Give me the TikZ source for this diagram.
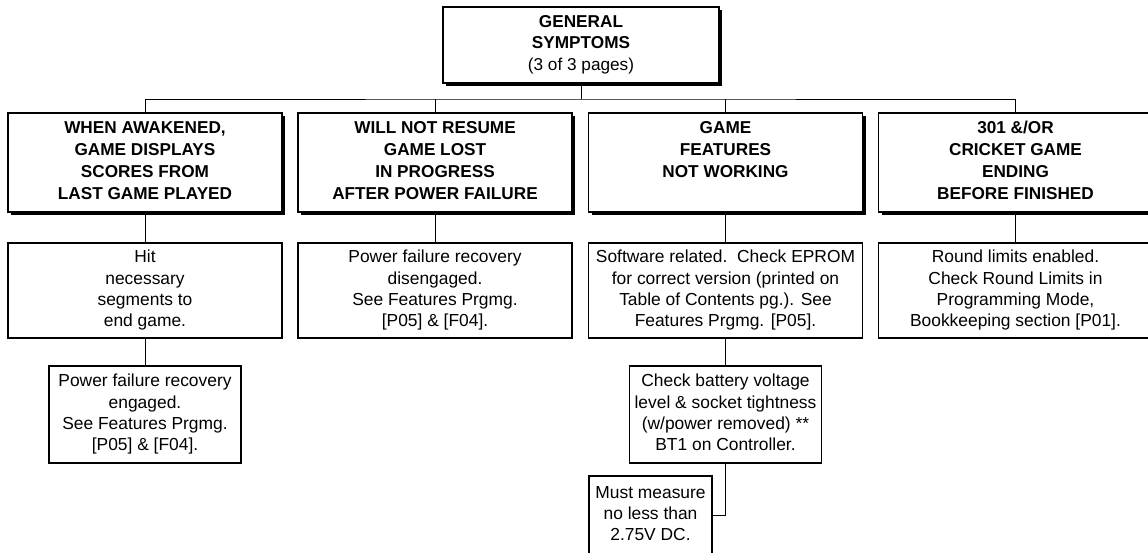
\documentclass[tikz,border=0pt]{standalone}
\usepackage{fontspec}
\setmainfont{Liberation Sans}
\usetikzlibrary{shadows}
\newcommand{\mystrut}{\rule[-4.2pt]{0pt}{20.4pt}}
\begin{document}
\begin{tikzpicture}[x=1pt,y=-1pt,
  plainbox/.style={draw=black, line width=1.1pt, fill=white, align=center, inner sep=0pt,
    font=\fontsize{17.4}{21.2}\selectfont,
    execute at begin node=\mystrut, execute at end node=\mystrut},
  headbox/.style={plainbox, font=\bfseries\fontsize{17.2}{22}\selectfont,
    drop shadow={shadow xshift=3pt, shadow yshift=-3pt, fill=black, opacity=1}},
  lvlone/.style={headbox, minimum width=274pt, minimum height=99pt},
  lvltwo/.style={plainbox, minimum width=274pt, minimum height=95pt},
  lvlthree/.style={plainbox, minimum width=192pt, minimum height=97pt},
  conn/.style={line width=0.8pt}]
\useasboundingbox (0,0) rectangle (1148,552);
\clip (0,0) rectangle (1148,552);

% top
\node[headbox, minimum width=276pt, minimum height=76pt, font=\bfseries\fontsize{17.2}{21.5}\selectfont] (top) at (581,45)
  {GENERAL\\SYMPTOMS\\{\mdseries (3 of 3 pages)}};

% level one
\node[lvlone] (a1) at (145,162.5) {WHEN AWAKENED,\\GAME DISPLAYS\\SCORES FROM\\LAST GAME PLAYED};
\node[lvlone] (a2) at (435,162.5) {WILL NOT RESUME\\GAME LOST\\IN PROGRESS\\AFTER POWER FAILURE};
\node[lvlone] (a3) at (725.5,162.5) {GAME\\FEATURES\\NOT WORKING\\};
\node[lvlone] (a4) at (1015.5,162.5) {301 \&/OR\\CRICKET GAME\\ENDING\\BEFORE FINISHED};

% level two
\node[lvltwo] (b1) at (145,290.5) {Hit\\necessary\\segments to\\end game.};
\node[lvltwo] (b2) at (435,290.5) {Power failure recovery\\disengaged.\\See Features Prgmg.\\{[P05]} \& [F04].};
\node[lvltwo] (b3) at (725.5,290.5) {Software related.\ \ Check EPROM\\for correct version (printed on\\Table of Contents pg.). See\\Features Prgmg. [P05].};
\node[lvltwo] (b4) at (1015.5,290.5) {Round limits enabled.\\Check Round Limits in\\Programming Mode,\\Bookkeeping section [P01].};

% level three
\node[lvlthree] (c1) at (145,414.5) {Power failure recovery\\engaged.\\See Features Prgmg.\\{[P05]} \& [F04].};
\node[lvlthree] (c3) at (725.5,414.5) {Check battery voltage\\level \& socket tightness\\(w/power removed) **\\BT1 on Controller.};

% level four
\node[plainbox, minimum width=123pt, minimum height=79pt] (d) at (650.5,515.5) {Must measure\\no less than\\2.75V DC.};

% connectors
\coordinate (bus) at (581,99);
\draw[conn] (top.south) -- (bus);
\draw[conn] (a1.north) |- (bus) -| (a4.north);
\draw[conn] (a2.north) -- (a2.north |- bus);
\draw[conn] (a3.north) -- (a3.north |- bus);
\draw[conn] (a1.south) -- (b1.north);
\draw[conn] (a2.south) -- (b2.north);
\draw[conn] (a3.south) -- (b3.north);
\draw[conn] (a4.south) -- (b4.north);
\draw[conn] (b1.south) -- (c1.north);
\draw[conn] (b3.south) -- (c3.north);
\draw[conn] (c3.south) |- (d.east);
\end{tikzpicture}
\end{document}
